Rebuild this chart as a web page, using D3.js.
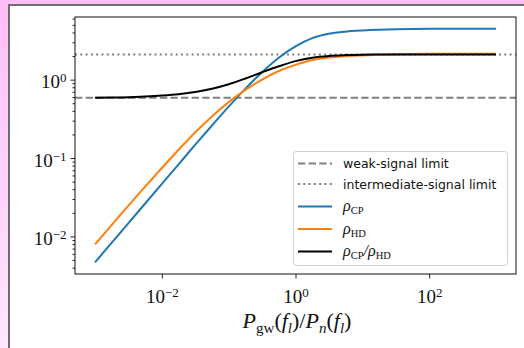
<!DOCTYPE html>
<html>
<head>
<meta charset="utf-8">
<script src="https://cdn.jsdelivr.net/npm/d3@7"></script>
<style>
  html, body { margin: 0; padding: 0; }
  body {
    width: 524px; height: 348px; overflow: hidden;
    background: linear-gradient(to bottom, #ffbdf6 0%, #ffd6fb 60%, #ffe6fd 100%);
    position: relative;
  }
  #frame {
    position: absolute; left: 8px; top: 4px; right: 0; bottom: 0;
    background: #fff;
    border-left: 2px solid #6e6e6e;
    border-top: 2px solid #6e6e6e;
  }
  svg { position: absolute; left: 0; top: 0; }
</style>
</head>
<body>
<div id="frame"></div>
<svg id="chart" width="524" height="348"></svg>
<script>
// Signal ratio P_gw/P_n, sampled every quarter decade
const ratioX = [0.001, 0.00178, 0.00316, 0.00562, 0.01, 0.0178, 0.0316, 0.0562, 0.1,
                0.178, 0.316, 0.562, 1, 1.78, 3.16, 5.62, 10, 17.8, 31.6, 56.2, 100,
                178, 316, 562, 1000];
// Cross-power statistic
const rhoCP = [0.004677, 0.008318, 0.01479, 0.02630, 0.04677, 0.08318, 0.1479, 0.2600, 0.4519,
               0.7674, 1.245, 1.905, 2.661, 3.388, 3.846, 4.093, 4.236, 4.335, 4.395,
               4.436, 4.457, 4.467, 4.467, 4.467, 4.467];
// Hellings-Downs statistic
const rhoHD = [0.007943, 0.01406, 0.02477, 0.04315, 0.07464, 0.1276, 0.2133, 0.3396, 0.5164,
               0.7413, 1.002, 1.288, 1.545, 1.778, 1.914, 1.991, 2.037, 2.075, 2.104,
               2.123, 2.133, 2.138, 2.138, 2.138, 2.138];
// Ratio of the two statistics
const rhoRatio = [0.5888, 0.5916, 0.5970, 0.6095, 0.6266, 0.6516, 0.6934, 0.7656, 0.8750,
                  1.035, 1.242, 1.479, 1.722, 1.905, 2.009, 2.056, 2.080, 2.089, 2.089,
                  2.089, 2.089, 2.089, 2.089, 2.089, 2.089];
// Reference levels
const weakLimit = 0.5888;
const intermediateLimit = 2.089;
// Axis tick exponents
const xTickExps = [-2, 0, 2];
const yTickExps = [-2, -1, 0];

const svg = d3.select("#chart");
const L = 75, R = 516, T = 17, B = 274;

// log-space extents with 5% padding
function paddedLogDomain(values) {
  const lo = Math.log10(d3.min(values)), hi = Math.log10(d3.max(values));
  const pad = (hi - lo) * 0.05;
  return [Math.pow(10, lo - pad), Math.pow(10, hi + pad)];
}
const x = d3.scaleLog().domain(paddedLogDomain(ratioX)).range([L, R]);
const y = d3.scaleLog().domain(paddedLogDomain(rhoCP.concat(rhoHD, rhoRatio))).range([B, T]);

const serif = "'Liberation Serif', 'DejaVu Serif', serif";

// minor ticks on the y axis
const yMinor = [];
for (let e = -3; e <= 0; e++) for (let m = 2; m <= 9; m++) {
  const v = m * Math.pow(10, e);
  if (v >= y.domain()[0] && v <= y.domain()[1]) yMinor.push(v);
}

const gYMinor = svg.append("g").attr("transform", `translate(${L},0)`)
  .call(d3.axisLeft(y).tickValues(yMinor).tickSize(2.5).tickFormat(""));
const gY = svg.append("g").attr("transform", `translate(${L},0)`)
  .call(d3.axisLeft(y).tickValues(yTickExps.map(e => Math.pow(10, e))).tickSize(4.5).tickPadding(4));
const gX = svg.append("g").attr("transform", `translate(0,${B})`)
  .call(d3.axisBottom(x).tickValues(xTickExps.map(e => Math.pow(10, e))).tickSize(4.5).tickPadding(5));

[gYMinor, gY, gX].forEach(g => {
  g.select(".domain").remove();
  g.selectAll(".tick line").attr("stroke", "#222").attr("stroke-width", 1);
});

function powerLabel(sel) {
  sel.each(function(d) {
    const t = d3.select(this);
    const e = Math.round(Math.log10(d));
    t.text(null).attr("font-family", serif).attr("font-size", 19).attr("fill", "#111");
    t.append("tspan").text("10");
    t.append("tspan").attr("font-size", 13).attr("dy", "-0.45em").text(e < 0 ? "\u2212" + (-e) : String(e));
  });
}
gY.selectAll(".tick text").call(powerLabel).attr("dy", "0.42em");
gX.selectAll(".tick text").call(powerLabel).attr("dy", "1.0em");

// horizontal reference lines
svg.append("line").attr("x1", L).attr("x2", R).attr("y1", y(weakLimit)).attr("y2", y(weakLimit))
  .attr("stroke", "#808080").attr("stroke-width", 2).attr("stroke-dasharray", "7.4,3.2");
svg.append("line").attr("x1", L).attr("x2", R).attr("y1", y(intermediateLimit)).attr("y2", y(intermediateLimit))
  .attr("stroke", "#808080").attr("stroke-width", 2).attr("stroke-dasharray", "2,3.3");

const line = vals => d3.line().curve(d3.curveMonotoneX)
  .x((d, i) => x(ratioX[i])).y(d => y(d))(vals);

const series = [
  { vals: rhoCP, color: "#1f77b4" },
  { vals: rhoHD, color: "#ff7f0e" },
  { vals: rhoRatio, color: "#000000" }
];
series.forEach(s => {
  svg.append("path").attr("d", line(s.vals)).attr("fill", "none")
    .attr("stroke", s.color).attr("stroke-width", 2).attr("stroke-linejoin", "round");
});

// axes frame
svg.append("rect").attr("x", L).attr("y", T).attr("width", R - L).attr("height", B - T)
  .attr("fill", "none").attr("stroke", "#111").attr("stroke-width", 1);

// Appends "main" followed by a lowered subscript; the next run is raised back by the caller.
function withSub(textSel, main, subTxt, opts) {
  textSel.append("tspan").attr("font-style", opts.mainItalic ? "italic" : "normal")
    .attr("font-size", opts.size).attr("dy", opts.lead || null).text(main);
  textSel.append("tspan").attr("font-size", opts.subSize)
    .attr("font-style", opts.subItalic ? "italic" : "normal")
    .attr("dy", opts.drop).text(subTxt);
}

// legend
const leg = svg.append("g");
leg.append("rect").attr("x", 293.5).attr("y", 151.5).attr("width", 214).attr("height", 114)
  .attr("rx", 3).attr("fill", "#fff").attr("fill-opacity", 0.8).attr("stroke", "#d0d0d0");
const legendRows = [
  { label: "weak-signal limit", color: "#808080", dash: "7.4,3.2" },
  { label: "intermediate-signal limit", color: "#808080", dash: "2,3.3" },
  { rho: ["CP"], color: "#1f77b4" },
  { rho: ["HD"], color: "#ff7f0e" },
  { rho: ["CP", "HD"], color: "#000000" }
];
const rowY = [163.5, 184, 206.5, 229, 251.5];
legendRows.forEach((r, i) => {
  const yy = rowY[i];
  leg.append("line").attr("x1", 298).attr("x2", 332).attr("y1", yy).attr("y2", yy)
    .attr("stroke", r.color).attr("stroke-width", 2).attr("stroke-dasharray", r.dash || null);
  const t = leg.append("text").attr("x", 343).attr("y", yy + 4.5).attr("fill", "#111");
  if (r.label) {
    t.attr("font-family", "'DejaVu Sans', sans-serif").attr("font-size", 12.5).text(r.label);
  } else {
    t.attr("font-family", serif).attr("font-size", 16);
    r.rho.forEach((s, k) => {
      if (k > 0) t.append("tspan").attr("font-style", "italic").attr("dy", -3).text("/");
      withSub(t, "\u03c1", s, { mainItalic: true, size: 16, subSize: 10.5, drop: 3, subItalic: false });
    });
  }
});

// x axis title: P_gw(f_l)/P_n(f_l)
const xt = svg.append("text").attr("x", 297).attr("y", 328).attr("text-anchor", "middle")
  .attr("font-family", serif).attr("font-size", 22).attr("fill", "#111");
const tOpts = { size: 22, subSize: 15, drop: 5, mainItalic: true };
withSub(xt, "P", "gw", Object.assign({}, tOpts, { subItalic: false }));
xt.append("tspan").attr("dy", -5).text("(");
withSub(xt, "f", "l", Object.assign({}, tOpts, { subItalic: true }));
xt.append("tspan").attr("dy", -5).text(")/");
withSub(xt, "P", "n", Object.assign({}, tOpts, { subItalic: true }));
xt.append("tspan").attr("dy", -5).text("(");
withSub(xt, "f", "l", Object.assign({}, tOpts, { subItalic: true }));
xt.append("tspan").attr("dy", -5).text(")");
</script>
</body>
</html>
